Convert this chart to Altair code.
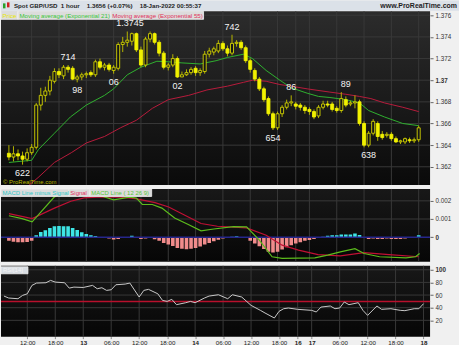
import altair as alt
import pandas as pd

FONT = "Liberation Sans"

# ---------------- data ----------------
idx = list(range(91))
open_ = [1.36325,1.3629,1.3632,1.3630,1.3627,1.3633,1.3638,1.3677,1.3686,1.3690,
         1.3699,1.3708,1.3704,1.3712,1.3711,1.3701,1.3703,1.3705,1.3707,1.3705,
         1.3717,1.3712,1.3714,1.3709,1.3711,1.3733,1.3735,1.3736,1.3743,1.3728,
         1.3714,1.3738,1.3743,1.3735,1.3725,1.3712,1.3714,1.3720,1.3703,1.3705,
         1.3707,1.3711,1.3707,1.3708,1.3724,1.3726,1.3727,1.3734,1.3729,1.3725,
         1.3734,1.3735,1.3730,1.3718,1.3709,1.3701,1.3692,1.3683,1.3669,1.3656,
         1.3669,1.3675,1.3679,1.3678,1.3677,1.3675,1.3673,1.3671,1.3667,1.3675,
         1.3678,1.3678,1.3674,1.3672,1.3682,1.3678,1.3679,1.3680,1.3660,1.3640,
         1.3651,1.3660,1.3650,1.3649,1.3650,1.3646,1.3643,1.3643,1.3645,1.3644,
         1.3645]
high = [1.3640,1.3639,1.3636,1.3634,1.3637,1.3641,1.3679,1.3693,1.3694,1.3704,
        1.3711,1.3711,1.3714,1.3714,1.3713,1.3705,1.3707,1.3708,1.3709,1.3719,
        1.3720,1.3716,1.3716,1.3714,1.3735,1.3740,1.3745,1.3744,1.3744,1.3731,
        1.3740,1.3745,1.3744,1.3737,1.3727,1.3716,1.3724,1.3722,1.3708,1.3710,
        1.3712,1.3713,1.3711,1.3727,1.3730,1.3731,1.3737,1.3736,1.3732,1.3742,
        1.3737,1.3737,1.3732,1.3720,1.3711,1.3703,1.3694,1.3685,1.3671,1.3671,
        1.3677,1.3682,1.3686,1.3680,1.3679,1.3677,1.3675,1.3673,1.3677,1.3681,
        1.3681,1.3680,1.3676,1.3689,1.3685,1.3681,1.3686,1.3682,1.3662,1.3653,
        1.3664,1.3662,1.3653,1.3652,1.3652,1.3648,1.3645,1.3647,1.3647,1.3647,
        1.3658]
low = [1.3626,1.3625,1.3626,1.3622,1.3625,1.3631,1.3636,1.3672,1.3680,1.3686,
       1.3697,1.3702,1.3701,1.3707,1.3700,1.3698,1.3700,1.3702,1.3703,1.3703,
       1.3710,1.3709,1.3708,1.3706,1.3709,1.3726,1.3731,1.3732,1.3726,1.3712,
       1.3712,1.3735,1.3733,1.3722,1.3710,1.3709,1.3712,1.3702,1.3703,1.3704,
       1.3705,1.3704,1.3704,1.3706,1.3721,1.3723,1.3725,1.3727,1.3722,1.3723,
       1.3731,1.3728,1.3716,1.3707,1.3699,1.3690,1.3680,1.3667,1.3654,1.3654,
       1.3666,1.3673,1.3676,1.3673,1.3672,1.3669,1.3668,1.3664,1.3665,1.3673,
       1.3675,1.3671,1.3670,1.3670,1.3675,1.3676,1.3674,1.3658,1.3638,1.3638,
       1.3649,1.3644,1.3645,1.3647,1.3644,1.3642,1.3641,1.3641,1.3642,1.3642,
       1.3643]
close = [1.3629,1.3632,1.3630,1.3627,1.3633,1.3638,1.3677,1.3686,1.3690,1.3700,
         1.3708,1.3705,1.3712,1.3710,1.3701,1.3703,1.3705,1.3706,1.3705,1.3717,
         1.3712,1.3714,1.3710,1.3712,1.3733,1.3735,1.3737,1.3743,1.3728,1.3714,
         1.3738,1.3743,1.3735,1.3725,1.3712,1.3714,1.3720,1.3703,1.3705,1.3707,
         1.3710,1.3707,1.3709,1.3724,1.3727,1.3729,1.3734,1.3729,1.3725,1.3734,
         1.3735,1.3730,1.3718,1.3710,1.3701,1.3692,1.3682,1.3669,1.3656,1.3669,
         1.3675,1.3679,1.3680,1.3676,1.3675,1.3672,1.3671,1.3666,1.3675,1.3678,
         1.3677,1.3673,1.3672,1.3683,1.3677,1.3679,1.3680,1.3660,1.3640,1.3651,
         1.3662,1.3648,1.3647,1.3650,1.3646,1.3643,1.3644,1.3646,1.3644,1.3645,
         1.3656]

ema21_i = [0, 5, 6.5, 10, 13.5, 17, 21, 23, 26, 29, 32.5, 35, 38, 42, 45.5, 48, 51.5,
           53.5, 56.5, 59.5, 62, 65.5, 68, 70.5, 74, 77, 79, 82.5, 86.5, 90]
ema21_v = [1.3624, 1.3626, 1.3636, 1.3651, 1.3666, 1.3677, 1.3686, 1.3692, 1.3705, 1.3712,
           1.37175, 1.3717, 1.3716, 1.3715, 1.3718, 1.3721, 1.3724, 1.3720, 1.3709, 1.3700,
           1.3693, 1.3688, 1.3685, 1.3684, 1.3682, 1.3679, 1.3672, 1.3666, 1.3660, 1.3658]
ema55_i = [0, 3.6, 6.4, 10, 13.7, 17, 21, 24.5, 28, 31.5, 35, 39.5, 43.5, 48, 51.5, 53.5,
           56.5, 59.5, 62, 65.5, 70.5, 74, 77, 79.5, 82.5, 86.5, 90]
ema55_v = [1.3587, 1.3600, 1.3610, 1.3624, 1.3633, 1.3642, 1.3648, 1.3656, 1.3663, 1.3674,
           1.3682, 1.3686, 1.3691, 1.36945, 1.3698, 1.3700, 1.3699, 1.3696, 1.36945, 1.3692,
           1.3689, 1.3687, 1.3685, 1.3683, 1.3679, 1.3675, 1.3671]

macd_i = [0, 2.9, 5.1, 10, 11.5, 15, 19.3, 23, 26.5, 28, 29.3, 31.5, 33.6, 36.4, 39.4,
          42.2, 45, 49.3, 52.2, 55, 57.8, 60, 67.2, 70, 72.8, 76, 78, 81.4, 87.2, 89.3, 90.2]
macd_v = [0.00118, 0.00102, 0.00084, 0.00222, 0.0024, 0.0025, 0.00235, 0.00205, 0.0022, 0.00215,
          0.0018, 0.0018, 0.0016, 0.00105, 0.0007, 0.00035, 0.00045, 0.00058, 0.00057, -0.00016,
          -0.00108, -0.00117, -0.00114, -0.00099, -0.00081, -0.00063, -0.0009, -0.00108,
          -0.00114, -0.00108, -0.0009]
sig_i = [0, 5.1, 10, 13.6, 16.5, 19.3, 24.4, 27.8, 32.1, 35.1, 39.4, 42.2, 45.8, 52.2,
         56.5, 60, 63.6, 67.9, 72.8, 78, 83.5, 90]
sig_v = [0.0013, 0.00102, 0.0016, 0.00198, 0.00216, 0.00221, 0.00221, 0.00212, 0.0019,
         0.00166, 0.00111, 0.00075, 0.0006, 0.00051, 0.00011, -0.00044, -0.00071, -0.00096,
         -0.00103, -0.00085, -0.00096, -0.00108]
hist = [-0.0002,-0.00025,-0.00028,-0.00028,-0.00026,-0.0002,0.0001,0.00029,0.00038,0.0005,
        0.0006,0.00062,0.0006,0.0006,0.0005,0.0004,0.00027,0.00018,0.00011,0.00007,
        -0.00003,-0.00005,-0.00008,-0.00013,-0.0001,-0.00005,-0.00002,0.00008,-0.00002,-0.0001,
        -0.00008,-0.00005,-0.00012,-0.0002,-0.00032,-0.0004,-0.00048,-0.0006,-0.00064,-0.00066,
        -0.00064,-0.0006,-0.00052,-0.0004,-0.00032,-0.00022,-0.00014,-0.00008,-0.00004,0.00002,
        0.00005,0.0,-0.00005,-0.0002,-0.00035,-0.0005,-0.00065,-0.0008,-0.00085,-0.0008,
        -0.00068,-0.00055,-0.00045,-0.00035,-0.00028,-0.0002,-0.00015,-0.0001,-0.00005,0.00002,
        0.00008,0.0001,0.0001,0.00015,0.00015,0.00015,0.0002,0.00012,-0.00005,-0.0001,
        -0.00008,-0.0001,-0.0001,-0.00008,-0.0001,-0.0001,-0.0001,-0.00008,-0.00005,-0.00003,
        0.0001]

rsi_i = [0,1,3,4,5,6,7,9,10,11,13,14,15,17,19,20,21,22,23,24,26,27,29,30,31,33,34,35,36,37,
         39,40,41,43,44,46,48,49,51,53,55,56,58,59,60,61,63,66,67,68,70,71,72,73,74,76,77,78,
         80,81,83,85,86,88,89,90]
rsi_v = [58.4,55.3,54.2,59.5,62,75.3,79,79.5,83.2,80.5,79.5,71,72.6,72,75.3,70,71.6,67.4,68.4,
         76.3,77.4,79,56.9,67.4,69,62,51.6,50,53.2,44.8,47.9,50,47.9,55.3,58.4,60.5,54.2,60.5,
         56.9,43.7,35.8,31.6,23.7,34.2,38.4,39.5,37.4,35.8,33.2,41,42.7,38.4,39.5,49,44.8,47.9,
         35.8,27.9,42.7,37.4,38.4,35.8,35.3,38.4,38.4,46.3]

ann_text = ["622", "714", "98", "06", "1.3745", "02", "742", "654", "86", "89", "638"]
ann_i = [3, 13, 15, 23, 26.6, 37, 49, 58, 62, 74, 79]
ann_price = [1.3622, 1.3714, 1.3698, 1.3706, 1.3745, 1.3702, 1.3742, 1.3654, 1.3686, 1.3689, 1.3638]
ann_side = ["low", "high", "low", "low", "high", "low", "high", "low", "high", "high", "low"]

tick_idx = [5, 11, 17, 23, 29, 35, 41, 47, 53, 59, 63, 66, 72, 78, 84, 90]
tick_lab = ["12:00", "18:00", "13", "06:00", "12:00", "18:00", "14", "06:00", "12:00",
            "18:00", "16", "17", "06:00", "12:00", "18:00", "18"]
day_idx = [17, 41, 63, 66, 90]
price_ticks = [1.362, 1.364, 1.366, 1.368, 1.37, 1.372, 1.374, 1.376]
macd_ticks = [0, 0.001, 0.002]
rsi_ticks = [20, 40, 60, 80, 100]

# ---------------- layout ----------------
W, H1, H2, H3 = 430, 174, 73, 71
xs = alt.Scale(domain=[-0.64, 91.4], nice=False, zero=False)
ys1 = alt.Scale(domain=[1.36032, 1.37636], nice=False, zero=False)
ys2 = alt.Scale(domain=[-0.001357, 0.002654], nice=False, zero=False)
ys3 = alt.Scale(domain=[-5.8, 106.3], nice=False, zero=False)

one = pd.DataFrame({"a": [0]})
candles = pd.DataFrame({"i": idx, "open": open_, "high": high, "low": low, "close": close, "hist": hist})
GRID = "#383838"


def yaxis(values, bold_test, fmt=None, expr=None):
    kw = dict(orient="right", values=values, labelFontSize=6.3, labelFont=FONT,
              labelColor="#333333", tickSize=3, tickColor="#666666", domain=False,
              grid=False, title=None, labelPadding=2, labelOverlap=False,
              labelFontWeight={"condition": {"test": bold_test, "value": "bold"}, "value": "normal"})
    if fmt:
        kw["format"] = fmt
    if expr:
        kw["labelExpr"] = expr
    return alt.Axis(**kw)


labexpr = ("[" + ",".join("'%s'" % s for s in tick_lab) + "][indexof([" +
           ",".join(str(v) for v in tick_idx) + "], datum.value)]")
XAX = alt.Axis(values=tick_idx, labelExpr=labexpr, labelFontSize=6.2, labelFont=FONT,
               labelColor="#222222", tickSize=2, tickColor="#888888", domain=False, grid=False,
               title=None, labelPadding=1, labelOverlap=False, labelFlush=False,
               labelFontWeight={"condition": {"test": "indexof([%s], datum.value) >= 0" %
                                              ",".join(str(v) for v in day_idx),
                                              "value": "bold"}, "value": "normal"})

AX1 = yaxis(price_ticks, "abs(datum.value - 1.37) < 0.00001", fmt=".3~f")
AX2 = yaxis(macd_ticks, "datum.value == 0",
            expr="datum.value == 0 ? '0' : format(datum.value, '.3f')")
AX3 = yaxis(rsi_ticks, "datum.value == 100")


def X(f="i", axis=None):
    return alt.X(f"{f}:Q", scale=xs, axis=axis)


def Y(f, scale, axis):
    return alt.Y(f"{f}:Q", scale=scale, axis=axis)


def bg(h, top, bot):
    grad = alt.LinearGradient(gradient="linear", x1=0, x2=0, y1=0, y2=1,
                              stops=[alt.GradientStop(color=top, offset=0),
                                     alt.GradientStop(color=bot, offset=1)])
    return alt.Chart(one).mark_rect(color=grad).encode(
        x=alt.value(0), x2=alt.value(W), y=alt.value(0), y2=alt.value(h))


def vgrid(h, axis=None):
    return alt.Chart(pd.DataFrame({"t": tick_idx})).mark_rule(color=GRID, strokeWidth=1).encode(
        x=X("t", axis), y=alt.value(0), y2=alt.value(h))


def hgrid(values, scale, axis, color=GRID, width=1.0):
    return alt.Chart(pd.DataFrame({"v": values})).mark_rule(color=color, strokeWidth=width).encode(
        y=Y("v", scale, axis), x=alt.value(0), x2=alt.value(W))


def box(x0, x1, y0, y1, fill="#dcdcdc"):
    return alt.Chart(one).mark_rect(fill=fill, stroke="#f4f4f4", strokeWidth=0.8).encode(
        x=alt.value(x0), x2=alt.value(x1), y=alt.value(y0), y2=alt.value(y1))


def txt(s, x, y, color, size=6.2, weight="normal", align="left"):
    return alt.Chart(one).mark_text(text=s, color=color, fontSize=size, fontWeight=weight,
                                    align=align, baseline="middle", font=FONT).encode(
        x=alt.value(x), y=alt.value(y))


def series_line(xi, yv, scale, axis, color, width=1.0, xaxis=None):
    df = pd.DataFrame({"i": xi, "v": yv})
    return alt.Chart(df).mark_line(color=color, strokeWidth=width, clip=True).encode(
        x=X("i", xaxis), y=Y("v", scale, axis))


# ---------------- main price panel ----------------
wicks = alt.Chart(candles).mark_rule(color="#b4b400", strokeWidth=1, clip=True).encode(
    x=X("i"), y=Y("low", ys1, AX1), y2="high:Q")
up = "datum.close >= datum.open"
bodies = alt.Chart(candles).mark_bar(size=3, strokeWidth=0.9, clip=True).encode(
    x=X("i"), y=Y("open", ys1, AX1), y2="close:Q",
    fill=alt.condition(up, alt.value("#161616"), alt.value("#f2f200")),
    stroke=alt.condition(up, alt.value("#d4d400"), alt.value("#f2f200")))

ann = pd.DataFrame({"t": ann_text, "i": ann_i, "p": ann_price, "s": ann_side})
ann_hi = alt.Chart(ann).transform_filter("datum.s == 'high'").mark_text(
    color="#f4f4f4", fontSize=9, font=FONT, dy=-8, baseline="middle").encode(
    x=X("i"), y=Y("p", ys1, AX1), text="t:N")
ann_lo = alt.Chart(ann).transform_filter("datum.s == 'low'").mark_text(
    color="#f4f4f4", fontSize=9, font=FONT, dy=8, baseline="middle").encode(
    x=X("i"), y=Y("p", ys1, AX1), text="t:N")

main = alt.layer(
    bg(H1, "#2c2c2c", "#0a0a0a"),
    vgrid(H1),
    hgrid(price_ticks, ys1, AX1),
    series_line(ema55_i, ema55_v, ys1, AX1, "#b81c3c"),
    series_line(ema21_i, ema21_v, ys1, AX1, "#2fb02f"),
    wicks, bodies, ann_hi, ann_lo,
    txt("\u00a9 ProRealTime.com", 2, 171.5, "#b8b800", size=6),
    box(0, 17, 0, 8), box(17, 110, 0, 8), box(110, 203, 0, 8),
    txt("Price", 1.5, 4.2, "#e8e800"),
    txt("Moving average (Exponential 21)", 18.5, 4.2, "#39c639"),
    txt("Moving average (Exponential 55)", 111.5, 4.2, "#e0305a"),
    # header bar
    alt.Chart(one).mark_rect(fill="#dbe1e8").encode(
        x=alt.value(0), x2=alt.value(459), y=alt.value(-11), y2=alt.value(-0.5)),
    alt.Chart(one).mark_rect(fill="#2aa02a").encode(
        x=alt.value(2), x2=alt.value(4.5), y=alt.value(-8), y2=alt.value(-3)),
    alt.Chart(one).mark_rect(fill="#d02020").encode(
        x=alt.value(6), x2=alt.value(8.5), y=alt.value(-9), y2=alt.value(-4)),
    txt("Spot GBP/USD", 13, -5.5, "#1e1e1e", size=6.2, weight="bold"),
    txt("1 hour", 60, -5.5, "#1e1e1e", size=6.2, weight="bold"),
    txt("1.3656 (+0.07%)", 86, -5.5, "#1e1e1e", size=6.2, weight="bold"),
    txt("18-Jan-2022 00:55:37", 139, -5.5, "#1e1e1e", size=6.2, weight="bold"),
    txt("www.ProRealTime.com", 457, -5.5, "#1e1e1e", size=7, weight="bold", align="right"),
).properties(width=W, height=H1)

# ---------------- MACD panel ----------------
hist_bars = alt.Chart(candles).transform_calculate(zero="0").mark_bar(size=3.6, clip=True).encode(
    x=X("i"), y=Y("hist", ys2, AX2), y2="zero:Q",
    color=alt.condition("datum.hist >= 0", alt.value("#3ee6e6"), alt.value("#f08c8c")))

macd = alt.layer(
    bg(H2, "#181818", "#060606"),
    vgrid(H2),
    hgrid([0.001, 0.002], ys2, AX2),
    hist_bars,
    hgrid([0], ys2, AX2, color="#26268c", width=1.5),
    series_line(sig_i, sig_v, ys2, AX2, "#c01034", 1.2),
    series_line(macd_i, macd_v, ys2, AX2, "#5cbc1c", 1.2),
    box(0, 68, 0, 7.5), box(68, 89, 0, 7.5), box(89, 151, 0, 7.5),
    txt("MACD Line minus Signal", 1.5, 4, "#30c8c8", size=6),
    txt("Signal", 69.5, 4, "#e03060", size=6),
    txt("MACD Line ( 12 26 9)", 90.5, 4, "#58c838", size=6),
).properties(width=W, height=H2)

# ---------------- RSI panel ----------------
rsi = alt.layer(
    bg(H3, "#181818", "#060606"),
    vgrid(H3, XAX),
    hgrid(rsi_ticks, ys3, AX3),
    hgrid([50], ys3, AX3, color="#b8102c", width=1.5),
    series_line(rsi_i, rsi_v, ys3, AX3, "#c8c8c8", 1.0, xaxis=XAX),
    box(0, 27, 1, 8, fill="#d8dde2"),
    txt("RSI[14]", 2, 4.6, "#f4f4f4", size=6),
).properties(width=W, height=H3)

chart = alt.vconcat(main, macd, rsi, spacing=2).properties(
    background="#f0f0f0", padding={"left": 0, "top": 0, "right": 0, "bottom": 0}
).configure_view(stroke=None)

chart.save("out.html", embed_options={"renderer": "svg", "actions": False})
